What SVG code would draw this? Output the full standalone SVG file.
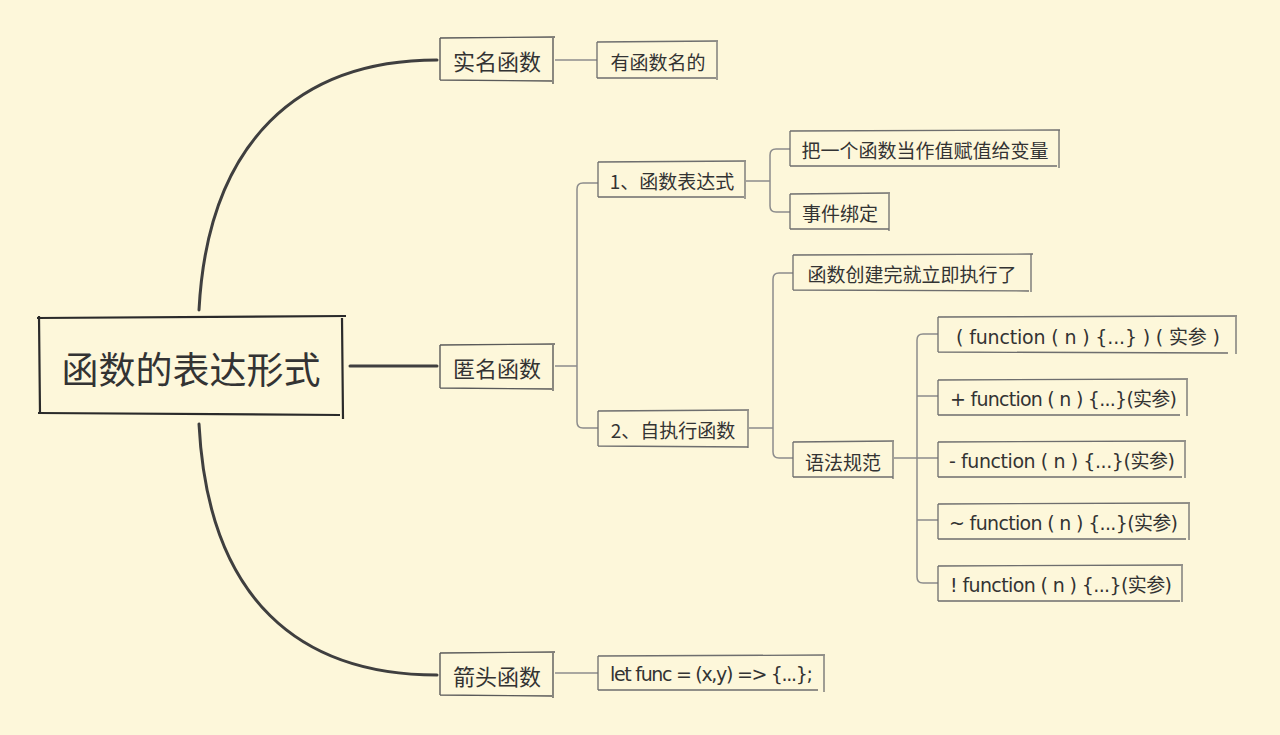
<svg xmlns="http://www.w3.org/2000/svg" width="1280" height="735" viewBox="0 0 1280 735">
<style>
.bg{fill:#fdf7da}
.main{fill:none;stroke:#3f3f3f;stroke-width:3;stroke-linecap:round}
.thin{fill:none;stroke:#8c8c8c;stroke-width:1.5}
.box{fill:none;stroke:#6e6e6e;stroke-width:1.3}
.rootbox{fill:none;stroke:#2a2a2a;stroke-width:2.2}
.l1box{fill:none;stroke:#5a5a5a;stroke-width:1.4}
text{font-family:"Noto Sans CJK SC","Noto Sans",sans-serif;fill:#333;dominant-baseline:central}
.t0{font-size:37px}
.t1{font-size:22px}
.t2{font-size:19px}
.code{font-family:"DejaVu Sans","Noto Sans CJK SC",sans-serif}
</style>
<rect class="bg" x="0" y="0" width="1280" height="735"/>
<g id="connectors">
<path class="main" d="M199,310 C208,140 300,60 437,60"/>
<path class="main" d="M350,366 L437,366"/>
<path class="main" d="M199,424 C208,600 300,675 437,675"/>
<path class="thin" d="M555,60 L597,60"/>
<path class="thin" d="M555,366 L577,366 M598,183 L583,183 Q577,183 577,189 L577,422 Q577,428 583,428 L598,428"/>
<path class="thin" d="M746,181 L770,181 M790,149 L776,149 Q770,149 770,155 L770,206 Q770,212 776,212 L790,212"/>
<path class="thin" d="M749,428 L773,428 M793,273 L779,273 Q773,273 773,279 L773,452 Q773,458 779,458 L793,458"/>
<path class="thin" d="M894,458 L938,458 M938,334 L923,334 Q917,334 917,340 L917,577 Q917,583 923,583 L938,583 M917,396 L938,396 M917,520 L938,520"/>
<path class="thin" d="M555,673 L598,673"/>
</g>
<g id="root">
<path class="rootbox" d="M37,318 L346,316 M39,316 L40,414 M38,413 L340,415 M342,318 L343,419"/>
<text class="t0" x="191" y="368" text-anchor="middle">函数的表达形式</text>
</g>
<g id="n-shiming">
<path class="l1box" d="M440,38 L555,37 M440,38 L440,80 M440,80 L552,81 M553,38 L553,84"/>
<text class="t1" x="497" y="60" text-anchor="middle">实名函数</text>
</g>
<g id="n-youhanshu">
<path class="box" d="M597,42 L718,41 M597,42 L597,78 M597,78 L716,78 M717,41 L717,80"/>
<text class="t2" x="658" y="61" text-anchor="middle">有函数名的</text>
</g>
<g id="n-niming">
<path class="l1box" d="M440,345 L555,344 M440,345 L440,388 M440,388 L552,389 M553,345 L553,391"/>
<text class="t1" x="497" y="367" text-anchor="middle">匿名函数</text>
</g>
<g id="n-expr">
<path class="box" d="M598,162 L746,161 M598,162 L598,197 M598,197 L744,197 M745,161 L745,199"/>
<text class="t2" x="672" y="180" text-anchor="middle">1、函数表达式</text>
</g>
<g id="n-assign">
<path class="box" d="M790,131 L1060,130 M790,131 L790,166 M790,166 L1057,166 M1059,130 L1059,168"/>
<text class="t2" x="925" y="149" text-anchor="middle">把一个函数当作值赋值给变量</text>
</g>
<g id="n-event">
<path class="box" d="M790,194 L890,193 M790,194 L790,229 M790,229 L889,229 M889,193 L889,231"/>
<text class="t2" x="840" y="212" text-anchor="middle">事件绑定</text>
</g>
<g id="n-iife">
<path class="box" d="M598,411 L749,410 M598,411 L598,446 M598,446 L748,447 M748,410 L748,448"/>
<text class="t2" x="673" y="429" text-anchor="middle">2、自执行函数</text>
</g>
<g id="n-immediate">
<path class="box" d="M793,255 L1033,254 M793,255 L793,290 M793,290 L1029,291 M1031,254 L1031,292"/>
<text class="t2" x="912" y="273" text-anchor="middle">函数创建完就立即执行了</text>
</g>
<g id="n-syntax">
<path class="box" d="M793,442 L894,441 M793,442 L793,477 M793,477 L893,477 M893,441 L893,479"/>
<text class="t2" x="843" y="461" text-anchor="middle">语法规范</text>
</g>
<g id="n-f1">
<path class="box" d="M938,317 L1237,316 M938,317 L938,352 M938,352 L1228,353 M1236,316 L1236,354"/>
<text class="t2 code" x="956" y="337" textLength="264" lengthAdjust="spacing">( function ( n ) {...} ) ( 实参 )</text>
</g>
<g id="n-f2">
<path class="box" d="M938,380 L1188,379 M938,380 L938,415 M938,415 L1180,415 M1187,379 L1187,416"/>
<text class="t2 code" x="950" y="399" textLength="227" lengthAdjust="spacing">+ function ( n ) {...}(实参)</text>
</g>
<g id="n-f3">
<path class="box" d="M938,442 L1186,441 M938,442 L938,477 M938,477 L1182,477 M1185,441 L1185,478"/>
<text class="t2 code" x="949" y="461" textLength="226" lengthAdjust="spacing">- function ( n ) {...}(实参)</text>
</g>
<g id="n-f4">
<path class="box" d="M938,504 L1190,503 M938,504 L938,539 M938,539 L1186,539 M1189,503 L1189,540"/>
<text class="t2 code" x="949" y="523" textLength="229" lengthAdjust="spacing">~ function ( n ) {...}(实参)</text>
</g>
<g id="n-f5">
<path class="box" d="M938,566 L1183,565 M938,566 L938,601 M938,601 L1180,601 M1182,565 L1182,602"/>
<text class="t2 code" x="950" y="585" textLength="222" lengthAdjust="spacing">! function ( n ) {...}(实参)</text>
</g>
<g id="n-arrow">
<path class="l1box" d="M440,653 L555,652 M440,653 L440,695 M440,695 L552,696 M553,653 L553,698"/>
<text class="t1" x="497" y="675" text-anchor="middle">箭头函数</text>
</g>
<g id="n-let">
<path class="box" d="M598,656 L825,655 M598,656 L598,690 M598,690 L818,690 M824,655 L824,692"/>
<text class="t2 code" x="610" y="674" textLength="203" lengthAdjust="spacing">let func = (x,y) =&gt; {...};</text>
</g>
</svg>
